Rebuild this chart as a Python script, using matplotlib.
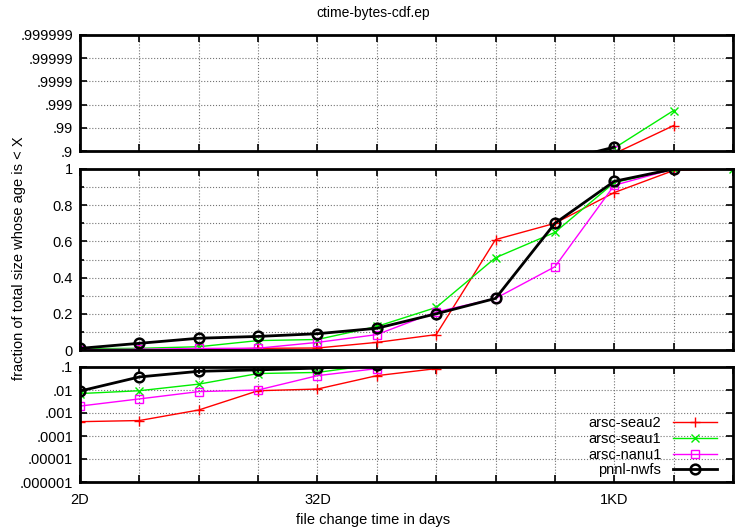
import numpy as np
import matplotlib.pyplot as plt
from matplotlib.ticker import FixedLocator, NullLocator, MultipleLocator

plt.rcParams['font.family'] = ['Liberation Sans', 'DejaVu Sans']
plt.rcParams['font.size'] = 10

# file change time (days) and cumulative fraction of bytes per filesystem
days = [2, 4, 8, 16, 32, 64, 128, 256, 512, 1024, 2048, 4096]
seau2 = [0.00042, 0.00047, 0.00135, 0.0093, 0.011, 0.042, 0.085, 0.61, 0.70, 0.87, 0.992, 1.0]
seau1 = [0.007, 0.0093, 0.018, 0.052, 0.058, 0.13, 0.235, 0.51, 0.65, 0.925, 0.9982, 1.0]
nanu1 = [0.002, 0.0041, 0.0085, 0.01, 0.042, 0.085, 0.21, 0.285, 0.46, 0.91, 1.0]
nwfs = [0.009, 0.037, 0.065, 0.075, 0.09, 0.12, 0.20, 0.285, 0.70, 0.932, 1.0]

series = [
    ('arsc-seau2', seau2, '#ff0000', '+', 1.0, 7),
    ('arsc-seau1', seau1, '#00ee00', 'x', 1.0, 6),
    ('arsc-nanu1', nanu1, '#ff00ff', 's', 1.0, 6),
    ('pnnl-nwfs', nwfs, '#000000', 'o', 2.0, 7),
]

xlabel_map = {2: '2D', 32: '32D', 1024: '1KD'}
top_ticks = [1, 2, 3, 4, 5, 6]
top_labels = ['.9', '.99', '.999', '.9999', '.99999', '.999999']
low_ticks = [1e-1, 1e-2, 1e-3, 1e-4, 1e-5, 1e-6]
low_labels = ['.1', '.01', '.001', '.0001', '.00001', '.000001']


def nines(y):
    # -log10(1-y): one unit per extra nine; y == 1 cannot be drawn
    y = np.asarray(y, dtype=float)
    with np.errstate(divide='ignore'):
        t = -np.log10(1.0 - y)
    t[~np.isfinite(t)] = np.nan
    return t


W, H = 746, 531
fig = plt.figure(figsize=(W / 100, H / 100), dpi=100)


def panel(top, bottom):
    l, r = 80, 733
    return fig.add_axes([l / W, 1 - bottom / H, (r - l) / W, (bottom - top) / H])


ax_top = panel(35, 151)
ax_mid = panel(169, 350)
ax_low = panel(367, 482)

for name, ys, color, mk, lw, ms in series:
    x = days[:len(ys)]
    kw = dict(color=color, marker=mk, lw=lw, ms=ms, mfc='none', mew=1.0 if lw < 2 else 1.8)
    ax_top.plot(x, nines(ys), **kw)
    ax_mid.plot(x, ys, **kw)
    ax_low.plot(x, ys, label=name, **kw)

powers = [2 ** k for k in range(1, 13)]
for ax in (ax_top, ax_mid, ax_low):
    ax.set_xscale('log', base=2)
    ax.set_xlim(2, 4096)
    ax.xaxis.set_major_locator(FixedLocator(powers))
    ax.xaxis.set_minor_locator(NullLocator())
    ax.set_xticklabels([])
    ax.grid(True, which='major', color='0.45', linestyle=':', linewidth=0.8)
    ax.tick_params(direction='in', which='both', top=True, right=True, length=5, width=1.2,
                   labelsize=10.5, pad=5)
    ax.tick_params(which='minor', length=3)
    for s in ax.spines.values():
        s.set_linewidth(2)

ax_top.set_ylim(1, 6)
ax_top.set_yticks(top_ticks)
ax_top.set_yticklabels(top_labels)

ax_mid.set_ylim(0, 1)
ax_mid.set_yticks([0, 0.2, 0.4, 0.6, 0.8, 1.0])
ax_mid.set_yticklabels(['0', '0.2', '0.4', '0.6', '0.8', '1'])
ax_mid.yaxis.set_minor_locator(MultipleLocator(0.1))
ax_mid.grid(True, which='minor', axis='y', color='0.45', linestyle=':', linewidth=0.8)

ax_low.set_yscale('log')
ax_low.set_ylim(1e-6, 1e-1)
ax_low.yaxis.set_major_locator(FixedLocator(low_ticks))
ax_low.yaxis.set_minor_locator(NullLocator())
ax_low.set_yticklabels(low_labels)
ax_low.set_xticks(powers)
ax_low.set_xticklabels([xlabel_map.get(p, '') for p in powers])
ax_low.tick_params(axis='x', pad=8)

ax_low.legend(loc='lower right', bbox_to_anchor=(0.975, 0.04), markerfirst=False,
              frameon=False, handlelength=3.0, handletextpad=0.8, labelspacing=0.12,
              borderaxespad=0, borderpad=0, fontsize=10.5)

fig.text(0.5, 1 - 13 / H, 'ctime-bytes-cdf.ep', ha='center', va='center', fontsize=10)
fig.text(0.5, 1 - 520 / H, 'file change time in days', ha='center', va='center', fontsize=10.5)
fig.text(19 / W, 1 - 258 / H, 'fraction of total size whose age is < X', ha='center',
         va='center', rotation=90, fontsize=10.5)

fig.savefig('out.png', dpi=100)
